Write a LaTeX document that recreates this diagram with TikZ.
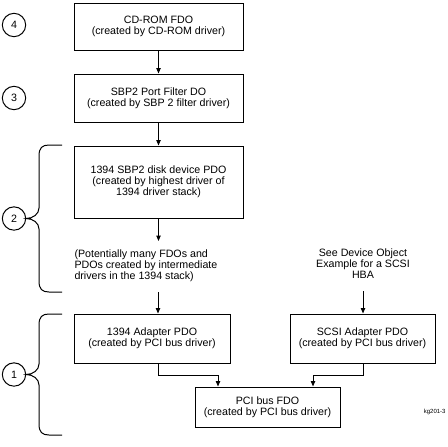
\documentclass[tikz,border=0pt]{standalone}
\usepackage{fontspec}
\setmainfont{Liberation Sans}
\usetikzlibrary{arrows.meta}
\begin{document}
\begin{tikzpicture}[x=0.75pt,y=-0.75pt,
  line width=0.75pt,
  every node/.style={font=\fontsize{8}{8.3}\selectfont},
  box/.style={draw, align=center, inner sep=0pt},
  circ/.style={draw, circle, minimum size=17.5pt, inner sep=0pt},
  arr/.style={-{Triangle[length=4pt,width=3.2pt]}},
  brace/.style={line width=0.75pt},
  note/.style={inner sep=0pt}
]
\useasboundingbox[fill=white] (0,0) rectangle (448,446);

% boxes
\node[box, minimum width=126.75pt, minimum height=35.25pt] (b1) at (158.5,26.5)
  {CD-ROM FDO\\(created by CD-ROM driver)};
\node[box, minimum width=126.75pt, minimum height=36pt] (b2) at (158.5,98)
  {SBP2 Port Filter DO\\(created by SBP 2 filter driver)};
\node[box, minimum width=126.75pt, minimum height=54pt] (b3) at (158.5,182)
  {1394 SBP2 disk device PDO\\(created by highest driver of\\1394 driver stack)};
\node[box, minimum width=117pt, minimum height=36.75pt] (b4) at (152,338.5)
  {1394 Adapter PDO\\(created by PCI bus driver)};
\node[box, minimum width=108.75pt, minimum height=36.75pt] (b5) at (362.5,338.5)
  {SCSI Adapter PDO\\(created by PCI bus driver)};
\node[box, minimum width=108.75pt, minimum height=30pt] (b6) at (267.5,407)
  {PCI bus FDO\\(created by PCI bus driver)};

% free texts
\node[note, align=left, anchor=west] (t1) at (74,266)
  {(Potentially many FDOs and\\PDOs created by intermediate\\drivers in the 1394 stack)};
\node[note, align=center] (t2) at (363,264)
  {See Device Object\\Example for a SCSI\\HBA};
\node[note, anchor=east, font=\fontsize{4.5}{5}\selectfont] (kg) at (446,412) {kg201-3};

% circles
\node[circ] (c4) at (14,25) {4};
\node[circ] (c3) at (14,98) {3};
\node[circ] (c2) at (14,218.5) {2};
\node[circ] (c1) at (14,374.5) {1};

% connector coordinates
\coordinate (e1) at (158.5,241);
\coordinate (s1) at (158,292);
\coordinate (s2) at (363,291);
\coordinate (j1) at (218,375);
\coordinate (j2) at (313,375);

% connectors
\draw[arr] (b1) -- (b2);
\draw[arr] (b2) -- (b3);
\draw[arr] (b3.south -| e1) -- (e1);
\draw[arr] (s1) -- (s1 |- b4.north);
\draw[arr] (s2) -- (s2 |- b5.north);
\draw[arr] (b4.south -| s1) |- (j1) -- (j1 |- b6.north);
\draw[arr] (b5.south -| s2) |- (j2) -- (j2 |- b6.north);

% braces
\draw[brace] (62,145) -- (49,145) .. controls (42,145) and (39,148) .. (39,156)
  -- (39,208) .. controls (39,214) and (33,218.5) .. (c2.east)
  .. controls (33,218.5) and (39,223) .. (39,229)
  -- (39,281) .. controls (39,289) and (42,292) .. (49,292) -- (62,292);
\draw[brace] (62,314) -- (49,314) .. controls (42,314) and (39,317) .. (39,325)
  -- (39,364) .. controls (39,370) and (33,374.5) .. (c1.east)
  .. controls (33,374.5) and (39,379) .. (39,385)
  -- (39,424) .. controls (39,432) and (42,435) .. (49,435) -- (62,435);
\end{tikzpicture}
\end{document}
